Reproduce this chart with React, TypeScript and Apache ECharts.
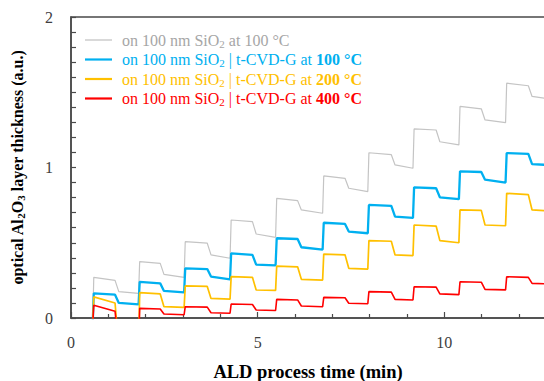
import React, { useEffect, useRef } from "react";
import * as echarts from "echarts";

// Pulse (rise) and purge (drop) times in minutes
const riseTimes = [0.58, 1.81, 3.03, 4.26, 5.48, 6.74, 7.95, 9.16, 10.39, 11.64];
const dropTimes = [1.18, 2.39, 3.65, 4.86, 6.07, 7.34, 8.58, 9.78, 10.99, 12.25];
const endTime = 12.9;

// grey: on 100 nm SiO2 at 100 °C
const greyHighStart = [0.27, 0.375, 0.507, 0.651, 0.795, 0.944, 1.098, 1.256, 1.406, 1.56];
const greyHighEnd = [0.25, 0.363, 0.497, 0.64, 0.78, 0.928, 1.085, 1.249, 1.39, 1.543];
const greyLowStart = [0.175, 0.29, 0.419, 0.558, 0.718, 0.862, 1.017, 1.171, 1.316, 1.472];
const greyLowEnd = [0.164, 0.27, 0.397, 0.536, 0.696, 0.84, 0.995, 1.15, 1.298, 1.454];

// blue: t-CVD-G at 100 °C
const blueHighStart = [0.164, 0.24, 0.33, 0.43, 0.53, 0.633, 0.751, 0.868, 0.974, 1.096];
const blueHighEnd = [0.155, 0.23, 0.325, 0.42, 0.525, 0.625, 0.745, 0.862, 0.97, 1.09];
const blueLowStart = [0.1, 0.18, 0.275, 0.355, 0.47, 0.574, 0.673, 0.802, 0.919, 1.023];
const blueLowEnd = [0.09, 0.17, 0.257, 0.35, 0.455, 0.563, 0.665, 0.79, 0.9, 1.015];

// yellow: t-CVD-G at 200 °C
const yellowHighStart = [0.14, 0.168, 0.213, 0.275, 0.345, 0.425, 0.514, 0.618, 0.718, 0.828];
const yellowHighEnd = [0.1, 0.16, 0.21, 0.27, 0.34, 0.42, 0.51, 0.611, 0.715, 0.82];
const yellowLowStart = [-0.2, 0.075, 0.13, 0.186, 0.257, 0.33, 0.419, 0.514, 0.618, 0.718];
const yellowLowEnd = [-0.2, 0.07, 0.125, 0.183, 0.252, 0.325, 0.415, 0.5, 0.613, 0.71];

// red: t-CVD-G at 400 °C
const redHighStart = [0.085, 0.064, 0.075, 0.093, 0.124, 0.137, 0.175, 0.208, 0.241, 0.274];
const redHighEnd = [0.045, 0.06, 0.072, 0.09, 0.12, 0.135, 0.172, 0.205, 0.238, 0.27];
const redLowStart = [-0.2, 0.027, 0.035, 0.053, 0.08, 0.098, 0.124, 0.16, 0.19, 0.23];
const redLowEnd = [-0.2, 0.022, 0.032, 0.05, 0.075, 0.095, 0.12, 0.155, 0.187, 0.225];

const seriesNames = [
  "on 100 nm SiO2 at 100 °C",
  "on 100 nm SiO2 | t-CVD-G at 100 °C",
  "on 100 nm SiO2 | t-CVD-G at 200 °C",
  "on 100 nm SiO2 | t-CVD-G at 400 °C",
];
const seriesColors = ["#c4c4c4", "#00b0f0", "#ffc000", "#ff0000"];
const legendTextColors = ["#a6a6a6", "#00b0f0", "#ffc000", "#ff0000"];
const lineWidths = [1.2, 2.3, 1.7, 1.6];

const xTickLabels = [0, 5, 10];

function buildTrace(hs: number[], he: number[], ls: number[], le: number[]) {
  const pts: number[][] = [[riseTimes[0], -0.05]];
  for (let i = 0; i < riseTimes.length; i++) {
    if (i > 0) pts.push([riseTimes[i], le[i - 1]]);
    pts.push([riseTimes[i] + 0.03, hs[i]]);
    pts.push([dropTimes[i], he[i]]);
    pts.push([dropTimes[i] + 0.1, ls[i]]);
  }
  pts.push([endTime, le[le.length - 1]]);
  return pts;
}

const FONT = "Liberation Serif";

export default function App() {
  const ref = useRef<HTMLDivElement>(null);
  useEffect(() => {
    if (!ref.current) return;
    const chart = echarts.init(ref.current, undefined, { renderer: "svg" });
    const traces = [
      buildTrace(greyHighStart, greyHighEnd, greyLowStart, greyLowEnd),
      buildTrace(blueHighStart, blueHighEnd, blueLowStart, blueLowEnd),
      buildTrace(yellowHighStart, yellowHighEnd, yellowLowStart, yellowLowEnd),
      buildTrace(redHighStart, redHighEnd, redLowStart, redLowEnd),
    ];
    const legendTops = [31, 50.5, 70, 89.5];
    const legends = seriesNames.map((name, i) => ({
      data: [{ name, icon: "rect" }],
      left: 85,
      top: legendTops[i],
      padding: 0,
      itemWidth: 27,
      itemHeight: i === 0 ? 1.3 : 2.2,
      itemGap: 0,
      selectedMode: false,
      itemStyle: { color: seriesColors[i], borderWidth: 0 },
      textStyle: {
        color: legendTextColors[i],
        fontFamily: FONT,
        fontSize: 16,
        lineHeight: 18,
        padding: [0, 0, 0, 5],
        rich: {
          n: { color: legendTextColors[i], fontFamily: FONT, fontSize: 16, lineHeight: 18 },
          s: {
            color: legendTextColors[i],
            fontFamily: FONT,
            fontSize: 11,
            lineHeight: 10,
            verticalAlign: "bottom",
          },
          b: {
            color: legendTextColors[i],
            fontFamily: FONT,
            fontSize: 16,
            fontWeight: "bold",
            lineHeight: 18,
          },
        },
      },
      formatter: (n: string) => {
        const parts = n.split("SiO2");
        let rest = parts[1];
        if (i > 0) {
          const k = rest.lastIndexOf("at ");
          const tail = rest.slice(k + 3);
          rest = rest.slice(0, k + 3);
          return `{n|${parts[0]}SiO}{s|2}{n|${rest}}{b|${tail}}`;
        }
        return `{n|${parts[0]}SiO}{s|2}{n|${rest}}`;
      },
    }));

    chart.setOption({
      animation: false,
      backgroundColor: "#ffffff",
      grid: {
        left: 71,
        top: 17,
        right: -87,
        bottom: 63,
        outerBoundsMode: "none",
        containLabel: false,
        show: true,
        borderColor: "#4a4a4a",
        borderWidth: 1.5,
      },
      legend: legends,
      xAxis: {
        type: "value",
        min: 0,
        max: 15,
        interval: 5,
        name: "ALD process time (min)",
        nameLocation: "middle",
        nameGap: 44,
        nameTextStyle: {
          fontFamily: FONT,
          fontSize: 18.5,
          fontWeight: "bold",
          color: "#000",
          padding: [0, 86, 0, 0],
        },
        axisLine: { show: true, lineStyle: { color: "#4a4a4a", width: 1.5 } },
        axisTick: { show: true, inside: true, length: 6, lineStyle: { color: "#4a4a4a", width: 1.2 } },
        minorTick: { show: true, splitNumber: 5, length: 4, lineStyle: { color: "#4a4a4a", width: 1.2 } },
        splitLine: { show: false },
        axisLabel: {
          margin: 16,
          fontFamily: FONT,
          fontSize: 16,
          color: "#404040",
          formatter: (v: number) => (xTickLabels.includes(v) ? String(v) : ""),
        },
      },
      yAxis: {
        type: "value",
        min: 0,
        max: 2,
        interval: 1,
        name: "optical Al{s|2}O{s|3} layer thickness (a.u.)",
        nameLocation: "middle",
        nameGap: 45,
        nameTextStyle: {
          fontFamily: FONT,
          fontSize: 16,
          fontWeight: "bold",
          color: "#000",
          lineHeight: 18,
          rich: {
            s: { fontFamily: FONT, fontSize: 11, fontWeight: "bold", lineHeight: 10, verticalAlign: "bottom", color: "#000" },
          },
        },
        axisLine: { show: true, lineStyle: { color: "#4a4a4a", width: 1.5 } },
        axisTick: { show: true, inside: true, length: 5, lineStyle: { color: "#4a4a4a", width: 1.2 } },
        minorTick: { show: true, splitNumber: 10, length: 5, lineStyle: { color: "#4a4a4a", width: 1.2 } },
        splitLine: { show: false },
        axisLabel: { margin: 18, fontFamily: FONT, fontSize: 16, color: "#404040" },
      },
      series: seriesNames.map((name, i) => ({
        name,
        type: "line",
        data: traces[i],
        symbol: "none",
        showSymbol: false,
        clip: true,
        color: seriesColors[i],
        lineStyle: { color: seriesColors[i], width: lineWidths[i] },
        z: 2 + i,
      })),
    });
    return () => chart.dispose();
  }, []);
  return (
    <div
      ref={ref}
      style={{ position: "absolute", left: 0, top: 0, width: 544, height: 381, overflow: "hidden" }}
    />
  );
}
